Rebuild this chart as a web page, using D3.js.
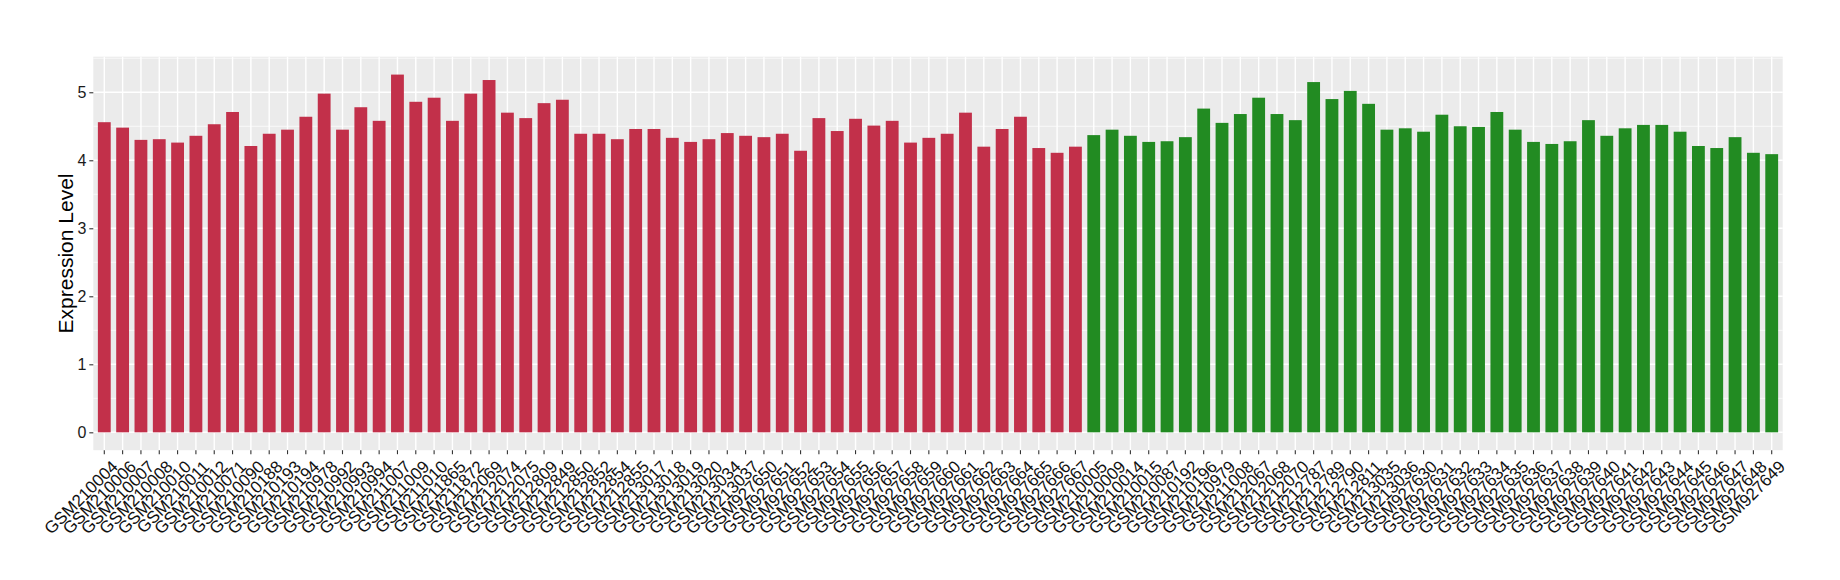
<!DOCTYPE html>
<html>
<head>
<meta charset="utf-8">
<script src="https://cdn.jsdelivr.net/npm/d3@7"></script>
<style>
  body { margin: 0; background: #fff; }
  text { font-family: "Liberation Sans", Arial, sans-serif; }
</style>
</head>
<body>
<svg width="1840" height="580"></svg>
<script>
// samples of the first group (red)
var groupA = ['GSM210004', 'GSM210006', 'GSM210007', 'GSM210008', 'GSM210010', 'GSM210011', 'GSM210012',
  'GSM210071', 'GSM210090', 'GSM210188', 'GSM210193', 'GSM210194', 'GSM210978', 'GSM210992', 'GSM210993',
  'GSM210994', 'GSM211007', 'GSM211009', 'GSM211010', 'GSM211865', 'GSM211872', 'GSM212069', 'GSM212074',
  'GSM212075', 'GSM212809', 'GSM212849', 'GSM212850', 'GSM212852', 'GSM212854', 'GSM212855', 'GSM213017',
  'GSM213018', 'GSM213019', 'GSM213020', 'GSM213034', 'GSM213037', 'GSM927650', 'GSM927651', 'GSM927652',
  'GSM927653', 'GSM927654', 'GSM927655', 'GSM927656', 'GSM927657', 'GSM927658', 'GSM927659', 'GSM927660',
  'GSM927661', 'GSM927662', 'GSM927663', 'GSM927664', 'GSM927665', 'GSM927666', 'GSM927667'];
var valuesA = [4.56, 4.48, 4.30, 4.31, 4.26, 4.36, 4.53, 4.71, 4.21, 4.39, 4.45, 4.64, 4.98, 4.45, 4.78,
  4.58, 5.26, 4.86, 4.92, 4.58, 4.98, 5.18, 4.70, 4.62, 4.84, 4.89, 4.39, 4.39, 4.31, 4.46, 4.46,
  4.33, 4.27, 4.31, 4.40, 4.36, 4.34, 4.39, 4.14, 4.62, 4.43, 4.61, 4.51, 4.58, 4.26, 4.33, 4.39,
  4.70, 4.20, 4.46, 4.64, 4.18, 4.11, 4.20];

// samples of the second group (green)
var groupB = ['GSM210005', 'GSM210009', 'GSM210014', 'GSM210015', 'GSM210087', 'GSM210192', 'GSM210196',
  'GSM210979', 'GSM211008', 'GSM212067', 'GSM212068', 'GSM212070', 'GSM212787', 'GSM212789', 'GSM212790',
  'GSM212811', 'GSM213035', 'GSM213036', 'GSM927630', 'GSM927631', 'GSM927632', 'GSM927633', 'GSM927634',
  'GSM927635', 'GSM927636', 'GSM927637', 'GSM927638', 'GSM927639', 'GSM927640', 'GSM927641', 'GSM927642',
  'GSM927643', 'GSM927644', 'GSM927645', 'GSM927646', 'GSM927647', 'GSM927648', 'GSM927649'];
var valuesB = [4.37, 4.45, 4.36, 4.27, 4.28, 4.34, 4.76, 4.55, 4.68, 4.92, 4.68, 4.59, 5.15, 4.90, 5.02,
  4.83, 4.45, 4.47, 4.42, 4.67, 4.50, 4.49, 4.71, 4.45, 4.27, 4.24, 4.28, 4.59, 4.36, 4.47, 4.52,
  4.52, 4.42, 4.21, 4.18, 4.34, 4.11, 4.09];

var yTicks = [0, 1, 2, 3, 4, 5];
var colorA = '#C2304A', colorB = '#228B22';

var data = groupA.map(function (s, i) { return { sample: s, value: valuesA[i], color: colorA }; })
  .concat(groupB.map(function (s, i) { return { sample: s, value: valuesB[i], color: colorB }; }));

var svg = d3.select('svg'),
  margin = { top: 56.7, right: 57.3, bottom: 129.8, left: 93.3 },
  width = +svg.attr('width') - margin.left - margin.right,
  height = +svg.attr('height') - margin.top - margin.bottom,
  g = svg.append('g').attr('transform', 'translate(' + margin.left + ',' + margin.top + ')');

var maxV = d3.max(data, function (d) { return d.value; });
var x = d3.scaleBand()
  .domain(data.map(function (d) { return d.sample; }))
  .range([0, width])
  .paddingInner(0.3)
  .paddingOuter(0.25);
var y = d3.scaleLinear()
  .domain([-0.05 * maxV, maxV * 1.05])
  .range([height, 0]);

// panel
g.append('rect')
  .attr('width', width)
  .attr('height', height)
  .attr('fill', '#EBEBEB');

// minor grid
g.selectAll('.minor')
  .data(d3.range(0.5, 5.6, 1))
  .enter().append('line')
  .attr('x1', 0).attr('x2', width)
  .attr('y1', function (d) { return y(d); })
  .attr('y2', function (d) { return y(d); })
  .attr('stroke', '#fff')
  .attr('stroke-width', 0.7);

// major grid
g.selectAll('.hmajor')
  .data(yTicks)
  .enter().append('line')
  .attr('x1', 0).attr('x2', width)
  .attr('y1', function (d) { return y(d); })
  .attr('y2', function (d) { return y(d); })
  .attr('stroke', '#fff')
  .attr('stroke-width', 1.4);
g.selectAll('.vmajor')
  .data(data)
  .enter().append('line')
  .attr('x1', function (d) { return x(d.sample) + x.bandwidth() / 2; })
  .attr('x2', function (d) { return x(d.sample) + x.bandwidth() / 2; })
  .attr('y1', 0).attr('y2', height)
  .attr('stroke', '#fff')
  .attr('stroke-width', 1.4);

// bars
g.selectAll('.bar')
  .data(data)
  .enter().append('rect')
  .attr('x', function (d) { return x(d.sample); })
  .attr('width', x.bandwidth())
  .attr('y', function (d) { return y(d.value); })
  .attr('height', function (d) { return y(0) - y(d.value); })
  .attr('fill', function (d) { return d.color; });

// Y axis
var yAxis = g.append('g')
  .call(d3.axisLeft(y).tickValues(yTicks).tickSize(4).tickPadding(3).tickFormat(d3.format('d')));
yAxis.select('.domain').remove();
yAxis.selectAll('line').attr('stroke', '#333').attr('stroke-width', 1.1);
yAxis.selectAll('text')
  .attr('fill', '#1a1a1a')
  .style('font-size', '16px')
  .style('font-family', '"Liberation Sans", Arial, sans-serif');

// X axis
var xAxis = g.append('g')
  .attr('transform', 'translate(0,' + height + ')')
  .call(d3.axisBottom(x).tickSize(4));
xAxis.select('.domain').remove();
xAxis.selectAll('line').attr('stroke', '#333').attr('stroke-width', 1.1);
xAxis.selectAll('text')
  .attr('fill', '#111')
  .attr('text-anchor', 'end')
  .attr('y', 0)
  .attr('dy', '0.71em')
  .attr('transform', 'translate(6,9) rotate(-45)')
  .style('font-size', '17px')
  .style('font-family', '"Liberation Sans", Arial, sans-serif');

// Y title
svg.append('text')
  .attr('transform', 'translate(66,' + (margin.top + height / 2) + ') rotate(-90)')
  .attr('text-anchor', 'middle')
  .attr('dy', '0.35em')
  .style('font-size', '21px')
  .attr('fill', '#000')
  .text('Expression Level');
</script>
</body>
</html>
